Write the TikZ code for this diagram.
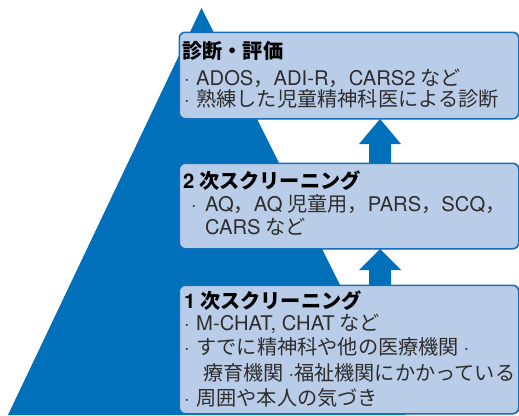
\documentclass[tikz,border=0pt]{standalone}
\usepackage{fontspec}
\usetikzlibrary{calc}
\newfontfamily\jp{Noto Sans CJK JP}
\newfontfamily\hv{TeX Gyre Heros}
\definecolor{pyr}{RGB}{0,112,186}
\definecolor{boxfill}{RGB}{186,205,232}
\definecolor{boxline}{RGB}{25,110,185}
\definecolor{txtc}{RGB}{45,45,45}
\newcommand\lt[1]{{\hv #1}}
\newcommand\bul[1][12pt]{\makebox[#1][l]{\hv ·}}
\tikzset{
  stagebox/.style={draw=boxline, line width=1pt, fill=boxfill, rounded corners=6pt,
    anchor=north west, inner sep=0pt, minimum width=339pt},
  ln/.style={anchor=base west, inner sep=0pt, text=txtc,
    font=\jp\fontsize{20.2}{24}\selectfont},
  ttl/.style={anchor=base west, inner sep=0pt, text=black,
    font=\jp\bfseries\fontsize{20.2}{24}\selectfont},
  uparrow/.style={fill=pyr}
}
\begin{document}
\begin{tikzpicture}[x=1pt,y=-1pt]
\useasboundingbox (0,0) rectangle (519,415);
% pyramid
\fill[pyr] (201.5,8) -- (405,415) -- (8,415) -- cycle;
% boxes
\node[stagebox, minimum height=86pt] (b1) at (179,32) {};
\node[stagebox, minimum height=85pt] (b2) at (179,163) {};
\node[stagebox, minimum height=128pt] (b3) at (179,285) {};
% arrows
\coordinate (ax) at (380,0);
\fill[uparrow] (b1.south -| ax) -- ++(21,25) -- ++(-10,0) -- ($(b2.north -| ax)+(11,0)$)
  -- ++(-22,0) -- ($(b1.south -| ax)+(-11,25)$) -- ++(-10,0) -- cycle;
\fill[uparrow] (b2.south -| ax) -- ++(21,21) -- ++(-10,0) -- ($(b3.north -| ax)+(11,0)$)
  -- ++(-22,0) -- ($(b2.south -| ax)+(-11,21)$) -- ++(-10,0) -- cycle;
\draw[boxline, line width=1pt, rounded corners=6pt] (b1.north west) rectangle (b1.south east);
\draw[boxline, line width=1pt, rounded corners=6pt] (b2.north west) rectangle (b2.south east);
\draw[boxline, line width=1pt, rounded corners=6pt] (b3.north west) rectangle (b3.south east);
% texts box 1
\node[ttl] (t1a) at (182,58) {診断・評価};
\node[ln] (t1b) at (184,85) {\bul\lt{ADOS}，\lt{ADI-R}，\lt{CARS2} など};
\node[ln] (t1c) at (184,106.5) {\bul 熟練した児童精神科医による診断};
% texts box 2
\node[ttl] (t2a) at (183,188.5) {\lt{\bfseries 2} 次スクリーニング};
\node[ln] (t2b) at (191,211.5) {\bul[14pt]\lt{AQ}，\lt{AQ} 児童用，\lt{PARS}，\lt{SCQ}，};
\node[ln] (t2c) at (205,234) {\lt{CARS} など};
% texts box 3
\node[ttl] (t3a) at (184,308.5) {\lt{\bfseries 1} 次スクリーニング};
\node[ln] (t3b) at (184,330) {\bul\lt{M-CHAT, CHAT} など};
\node[ln] (t3c) at (184,354) {\bul すでに精神科や他の医療機関 \lt{·}};
\node[ln] (t3d) at (203,380.5) {療育機関 \lt{·}福祉機関にかかっている};
\node[ln] (t3e) at (184,405.5) {\bul 周囲や本人の気づき};
\end{tikzpicture}
\end{document}
